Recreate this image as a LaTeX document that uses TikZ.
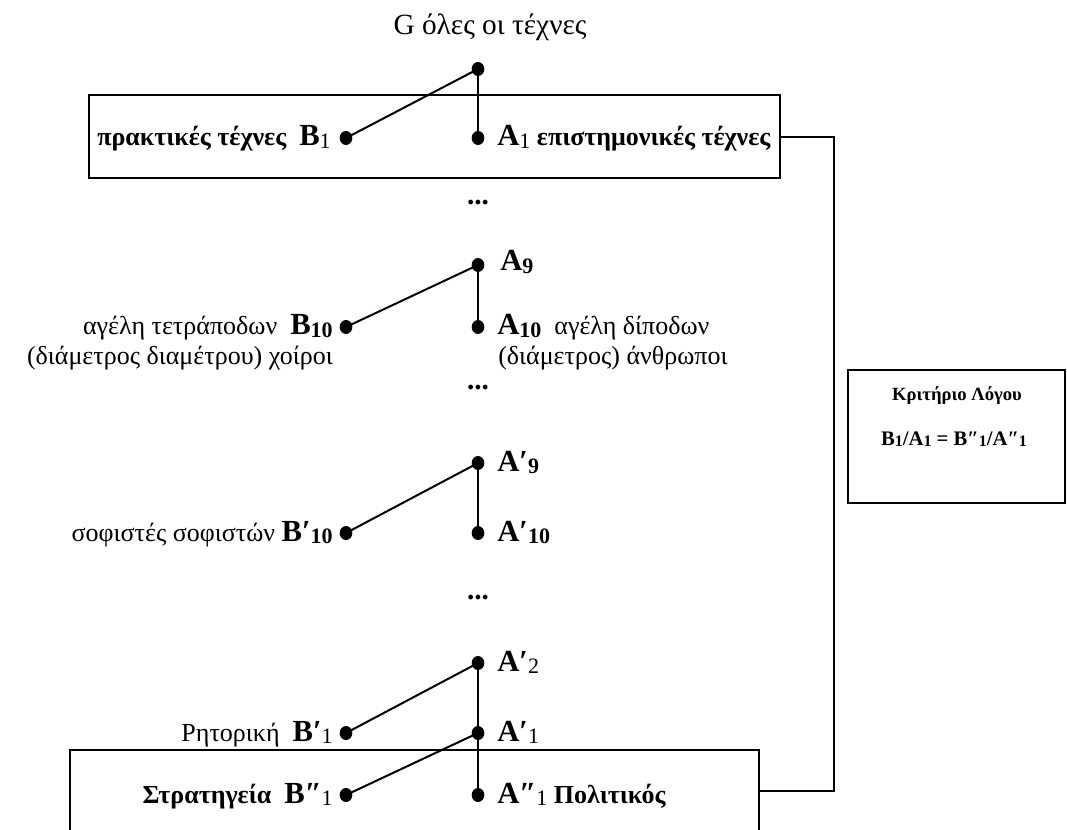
\documentclass[tikz,border=0pt]{standalone}
\usepackage{fontspec}
\setmainfont{Liberation Serif}
\usetikzlibrary{shapes.geometric}
\begin{document}
\begin{tikzpicture}[x=0.75pt,y=-0.75pt,
  dot/.style={ellipse,fill=black,inner sep=0pt,minimum width=9.5pt,minimum height=10.5pt},
  link/.style={line width=1.5pt},
  frame/.style={line width=1.1pt},
  lbl/.style={inner sep=0pt,font=\fontsize{19.5}{21}\selectfont},
  dots/.style={inner sep=0pt,font=\fontsize{22}{24}\selectfont\bfseries},
  crit/.style={inner sep=0pt,font=\fontsize{14.5}{16}\selectfont\bfseries},
]
% letter with a bold / regular lowered index
\newcommand{\Lt}[2]{{\fontsize{23}{25}\selectfont\bfseries #1}\raisebox{-2pt}{\fontsize{16.5}{18}\selectfont\bfseries #2}}
\newcommand{\Ln}[2]{{\fontsize{23}{25}\selectfont\bfseries #1}\raisebox{-2pt}{\fontsize{16.5}{18}\selectfont\mdseries #2}}
\newcommand{\cs}[1]{\raisebox{-1pt}{\fontsize{12}{13}\selectfont #1}}
\useasboundingbox (0,0) rectangle (1067,830);

% heading
\node[inner sep=0pt,font=\fontsize{22}{24}\selectfont] (G) at (490,27) {G όλες οι τέχνες};

% top frame
\draw[frame] (89,95) rectangle (780,178);
% bottom frame (open below)
\draw[frame] (70,830) -- (70,750) -- (759,750) -- (759,830);
% criterion box
\draw[frame] (848,370) rectangle (1065,503);
\node[crit,font=\fontsize{14}{16}\selectfont\bfseries] (kl) at (957,396) {Κριτήριο Λόγου};
\node[crit,font=\fontsize{15.5}{17}\selectfont\bfseries] (kr) at (954,439)
  {B\cs{1}/A\cs{1} = B″\cs{1}/A″\cs{1}};

% dots
\node[dot] (g)   at (478,69) {};
\node[dot] (b1)  at (346,138) {};
\node[dot] (a1)  at (478,138) {};
\node[dot] (a9)  at (478,265) {};
\node[dot] (b10) at (346,327) {};
\node[dot] (a10) at (478,327) {};
\node[dot] (pa9) at (478,463) {};
\node[dot] (pb10) at (346,533) {};
\node[dot] (pa10) at (478,533) {};
\node[dot] (pa2) at (478,663) {};
\node[dot] (pb1) at (346,733) {};
\node[dot] (pa1) at (478,733) {};
\node[dot] (qb1) at (346,795) {};
\node[dot] (qa1) at (478,795) {};

% tree edges
\draw[link] (g.center) -- (b1.center);
\draw[link] (g.center) -- (a1.center);
\draw[link] (a9.center) -- (b10.center);
\draw[link] (a9.center) -- (a10.center);
\draw[link] (pa9.center) -- (pb10.center);
\draw[link] (pa9.center) -- (pa10.center);
\draw[link] (pa2.center) -- (pb1.center);
\draw[link] (pa2.center) -- (pa1.center);
\draw[link] (pa1.center) -- (qb1.center);
\draw[link] (pa1.center) -- (qa1.center);

% labels
\node[lbl,anchor=base east] (tb1) at (331,146) {\bfseries πρακτικές τέχνες\ \ \Ln{B}{1}};
\node[lbl,anchor=base west] (ta1) at (497,146) {\Ln{A}{1} \bfseries επιστημονικές τέχνες};

\node[dots] (d1) at (478,203) {...};

\node[lbl,anchor=base west] (ta9) at (500,271) {\Lt{A}{9}};
\node[lbl,anchor=base east] (tb10) at (333,335) {αγέλη τετράποδων\ \ \Lt{B}{10}};
\node[lbl,anchor=base east] (tb10b) at (333,365) {(διάμετρος διαμέτρου) χοίροι};
\node[lbl,anchor=base west] (ta10) at (497,335) {\Lt{A}{10}\ \ αγέλη δίποδων};
\node[lbl,anchor=base west] (ta10b) at (498,365) {(διάμετρος) άνθρωποι};

\node[dots] (d2) at (478,388) {...};

\node[lbl,anchor=base west] (tpa9) at (497,471) {\Lt{A′}{9}};
\node[lbl,anchor=base east] (tpb10) at (333,541) {σοφιστές σοφιστών \Lt{B′}{10}};
\node[lbl,anchor=base west] (tpa10) at (497,541) {\Lt{A′}{10}};

\node[dots] (d3) at (478,598) {...};

\node[lbl,anchor=base west] (tpa2) at (497,671) {\Ln{A′}{2}};
\node[lbl,anchor=base east] (tpb1) at (333,741) {Ρητορική\ \ \Ln{B′}{1}};
\node[lbl,anchor=base west] (tpa1) at (497,741) {\Ln{A′}{1}};
\node[lbl,anchor=base east] (tqb1) at (333,803) {\bfseries Στρατηγεία\ \ \Ln{B″}{1}};
\node[lbl,anchor=base west] (tqa1) at (497,803) {\Ln{A″}{1} \bfseries Πολιτικός};

% link between the two frames and the criterion
\coordinate (c1) at (834,137);
\coordinate (c2) at (834,791);
\draw[frame] (780,137) -- (c1) -- (c2) -- (759,791);
\end{tikzpicture}
\end{document}
